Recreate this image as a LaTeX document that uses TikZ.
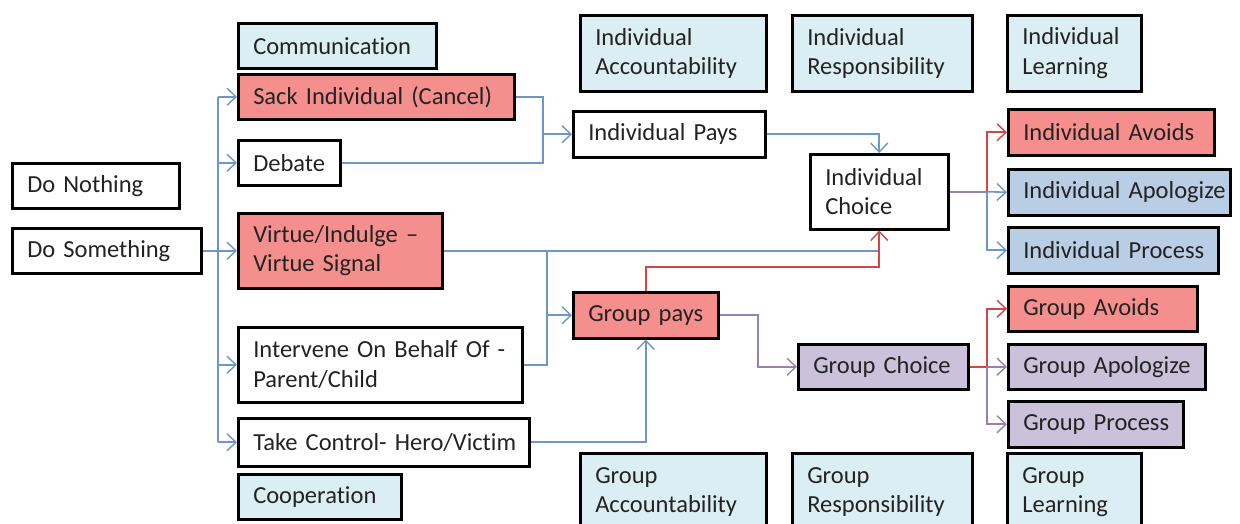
\documentclass[tikz,border=0pt]{standalone}
\usepackage{fontspec}
\setmainfont{Carlito}[Ligatures=NoCommon]
\usetikzlibrary{arrows.meta}
\definecolor{lb}{RGB}{219,238,244}
\definecolor{rd}{RGB}{245,143,141}
\definecolor{sb}{RGB}{185,205,229}
\definecolor{pu}{RGB}{204,193,218}
\definecolor{cb}{RGB}{110,150,200}
\definecolor{cr}{RGB}{210,70,70}
\definecolor{cp}{RGB}{150,130,175}
\definecolor{txt}{RGB}{35,35,35}
\newcommand\mybox[7]{%
  \pgfmathsetmacro\bw{#4-#2}\pgfmathsetmacro\bh{#5-#3}\pgfmathsetmacro\tw{#4-#2-30}%
  \node[box, fill=#6, minimum width=\bw pt, minimum height=\bh pt, text width=\tw pt] (#1) at (#2,#3) {#7};}
\begin{document}
\begin{tikzpicture}[x=1pt,y=-1pt,
  box/.style={draw=black, line width=2.5pt, anchor=north west, inner xsep=15pt, inner ysep=0pt, align=left, font=\fontsize{24.5}{29.5}\selectfont, text=txt},
  ln/.style={line width=1.6pt, draw=cb},
  conn/.style={ln, -{Straight Barb[length=9pt,width=17pt,line width=1.4pt]}}]
\useasboundingbox (0,0) rectangle (1240,523);
\fill[white] (0,0) rectangle (1240,523);
% nodes
\mybox{com}{237}{22}{435}{67}{lb}{\mbox{Communication}}
\mybox{sack}{237}{73}{513}{118}{rd}{\mbox{Sack Individual (Cancel)}}
\mybox{deb}{237}{139}{339}{184}{white}{\mbox{Debate}}
\mybox{dn}{11}{162}{178}{207}{white}{\mbox{Do Nothing}}
\mybox{ds}{11}{227}{200}{272}{white}{\mbox{Do Something}}
\mybox{vir}{237}{212}{441}{287}{rd}{\mbox{Virtue/Indulge --}\\\mbox{Virtue Signal}}
\mybox{int}{237}{326}{521}{401}{white}{\mbox{Intervene On Behalf Of -}\\\mbox{Parent/Child}}
\mybox{tc}{237}{417}{528}{465}{white}{\mbox{Take Control- Hero/Victim}}
\mybox{coop}{237}{473}{400}{518}{lb}{\mbox{Cooperation}}
\mybox{iacc}{579}{14}{765}{90}{lb}{\mbox{Individual}\\\mbox{Accountability}}
\mybox{ires}{791}{14}{971}{90}{lb}{\mbox{Individual}\\\mbox{Responsibility}}
\mybox{ilea}{1006}{14}{1140}{90}{lb}{\mbox{Individual}\\\mbox{Learning}}
\mybox{ip}{572}{110}{764}{156}{white}{\mbox{Individual Pays}}
\mybox{ic}{809}{153}{947}{228}{white}{\mbox{Individual}\\\mbox{Choice}}
\mybox{iav}{1007}{108}{1213}{154}{rd}{\mbox{Individual Avoids}}
\mybox{iap}{1007}{168}{1229}{214}{sb}{\mbox{Individual Apologize}}
\mybox{ipr}{1007}{226}{1217}{272}{sb}{\mbox{Individual Process}}
\mybox{gp}{572}{291}{717}{337}{rd}{\mbox{Group pays}}
\mybox{gc}{797}{343}{967}{388}{pu}{\mbox{Group Choice}}
\mybox{gav}{1007}{285}{1196}{330}{rd}{\mbox{Group Avoids}}
\mybox{gap}{1007}{343}{1204}{388}{pu}{\mbox{Group Apologize}}
\mybox{gpr}{1007}{400}{1182}{446}{pu}{\mbox{Group Process}}
\mybox{gacc}{579}{452}{765}{530}{lb}{\mbox{Group}\\\mbox{Accountability}}
\mybox{gres}{791}{452}{971}{530}{lb}{\mbox{Group}\\\mbox{Responsibility}}
\mybox{glea}{1006}{452}{1140}{530}{lb}{\mbox{Group}\\\mbox{Learning}}
% junction coordinates
\coordinate (t0) at (218,0);
\coordinate (j1) at (543,0);
\coordinate (j2) at (547,0);
\coordinate (rj) at (0,267);
\coordinate (j3) at (758,0);
\coordinate (j4) at (987,0);
% Do Something fan-out
\draw[ln] (ds.east) -- (ds.east -| t0);
\draw[ln] (t0 |- sack.west) -- (t0 |- tc.west);
\foreach \n in {sack,deb,vir,int,tc} \draw[conn] (t0 |- \n.west) -- (\n.west);
% to Individual Pays
\draw[ln] (sack.east) -- (sack.east -| j1) -- (deb.east -| j1) -- (deb.east);
\draw[conn] (j1 |- ip.west) -- (ip.west);
\draw[conn] (ip.east) -| (ic.north);
% Virtue to Individual Choice / Group pays
\draw[ln] (vir.east) -- (vir.east -| ic.south);
\draw[ln] (vir.east -| j2) -- (int.east -| j2) -- (int.east);
\draw[conn] (j2 |- gp.west) -- (gp.west);
\draw[conn] (tc.east) -| (gp.south);
\draw[conn, draw=cr] (gp.north) -- (gp.north |- rj) -| (ic.south);
% Group pays to Group Choice
\draw[conn, draw=cp] (gp.east) -- (gp.east -| j3) |- (gc.west);
% Individual Choice outputs
\draw[ln, draw=cp] (ic.east) -- (ic.east -| j4);
\draw[conn, draw=cr] (ic.east -| j4) |- (iav.west);
\draw[conn] (ic.east -| j4) -- (iap.west);
\draw[conn] (ic.east -| j4) |- (ipr.west);
% Group Choice outputs
\draw[ln, draw=cr] (gc.east) -- (gc.east -| j4);
\draw[conn, draw=cr] (gc.east -| j4) |- (gav.west);
\draw[conn, draw=cp] (gc.east -| j4) -- (gap.west);
\draw[conn, draw=cp] (gc.east -| j4) |- (gpr.west);
\end{tikzpicture}
\end{document}
